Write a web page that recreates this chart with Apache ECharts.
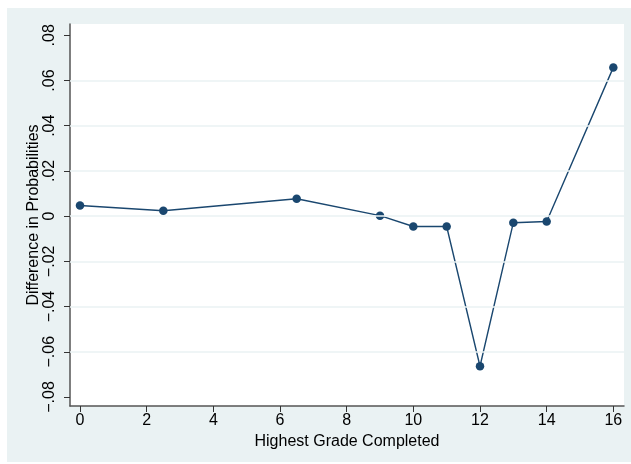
<!DOCTYPE html>
<html>
<head>
<meta charset="utf-8">
<script src="https://cdn.jsdelivr.net/npm/echarts@6/dist/echarts.min.js"></script>
<style>
  html, body { margin: 0; padding: 0; background: #ffffff; }
  #chart { width: 631px; height: 464px; }
</style>
</head>
<body>
<div id="chart"></div>
<script>
// Highest grade completed (x) and difference in predicted probabilities (y)
const grades = [0, 2.5, 6.5, 9, 10, 11, 12, 13, 14, 16];
const differences = [0.0047, 0.0024, 0.0077, 0.0002, -0.0046, -0.0046, -0.0664, -0.0029, -0.0024, 0.0658];

// Labelled ticks on each axis
const xTicks = [0, 2, 4, 6, 8, 10, 12, 14, 16];
const yTicks = [-0.08, -0.06, -0.04, -0.02, 0, 0.02, 0.04, 0.06, 0.08];
// Horizontal reference lines inside the plot
const yGrid = [-0.06, -0.04, -0.02, 0, 0.02, 0.04, 0.06];

function fmtY(v) {
  if (Math.abs(v) < 1e-9) return '0';
  const s = Math.abs(v).toFixed(2).replace(/^0/, '');
  return (v < 0 ? '\u2212' : '') + s;
}

const FONT = '"Liberation Sans", Arial, sans-serif';
const NAVY = '#1a476f';
const BG = '#eaf2f3';

const chart = echarts.init(document.getElementById('chart'), null, { renderer: 'canvas' });
chart.setOption({
  backgroundColor: '#ffffff',
  animation: false,
  textStyle: { fontFamily: FONT },
  graphic: [
    { type: 'rect', z: -10, shape: { x: 7, y: 8, width: 624, height: 454 }, style: { fill: BG } },
    { type: 'rect', z: -9, shape: { x: 70, y: 24, width: 554, height: 382 }, style: { fill: '#ffffff' } }
  ],
  grid: { left: 70, right: 7, top: 24, bottom: 58, containLabel: false },
  xAxis: {
    type: 'value',
    min: -0.3,
    max: 16.32,
    name: 'Highest Grade Completed',
    nameLocation: 'middle',
    nameGap: 28,
    nameMoveOverlap: false,
    nameTextStyle: { fontFamily: FONT, fontSize: 16, color: '#000' },
    axisLine: { show: true, onZero: false, lineStyle: { color: '#555', width: 1.5 } },
    axisTick: { show: true, customValues: xTicks, length: 6, lineStyle: { color: '#333', width: 1 } },
    axisLabel: { customValues: xTicks, fontFamily: FONT, fontSize: 16, color: '#000', margin: 7 },
    splitLine: { show: false }
  },
  yAxis: {
    type: 'value',
    min: -0.084,
    max: 0.085,
    name: 'Difference in Probabilities',
    nameLocation: 'middle',
    nameGap: 28,
    nameMoveOverlap: false,
    nameRotate: 90,
    nameTextStyle: { fontFamily: FONT, fontSize: 16, color: '#000' },
    axisLine: { show: true, onZero: false, lineStyle: { color: '#555', width: 1.5 } },
    axisTick: { show: true, customValues: yTicks, length: 6, lineStyle: { color: '#333', width: 1 } },
    axisLabel: { customValues: yTicks, formatter: fmtY, rotate: 90, fontFamily: FONT, fontSize: 16, color: '#000', margin: 12 },
    splitLine: { show: false }
  },
  series: [
    {
      // background reference lines
      type: 'line',
      z: 1,
      data: [],
      silent: true,
      markLine: {
        silent: true,
        symbol: 'none',
        label: { show: false },
        lineStyle: { color: BG, width: 1.5, type: 'solid' },
        data: yGrid.map(v => ({ yAxis: v }))
      }
    },
    {
      type: 'line',
      z: 3,
      data: grades.map((g, i) => [g, differences[i]]),
      symbol: 'circle',
      symbolSize: 8.5,
      lineStyle: { color: NAVY, width: 1.4 },
      itemStyle: { color: NAVY }
    }
  ]
});
</script>
</body>
</html>
